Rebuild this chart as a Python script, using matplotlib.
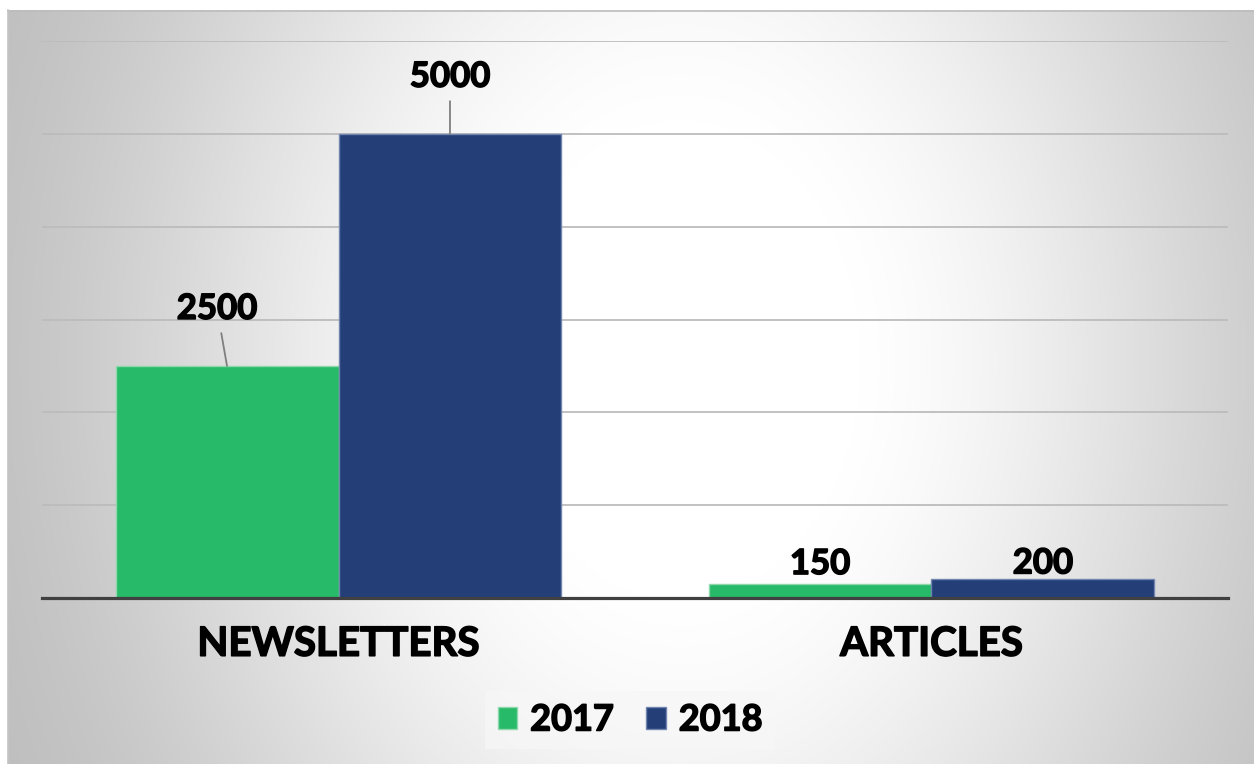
import numpy as np
import matplotlib
matplotlib.use("Agg")
import matplotlib.pyplot as plt
import matplotlib.patheffects as pe
from matplotlib.patches import Patch

# данные
categories = ["NEWSLETTERS", "ARTICLES"]
series = ["2017", "2018"]
values_2017 = [2500, 150]
values_2018 = [5000, 200]

colors = {"2017": "#27BA68", "2018": "#243F78"}
edges = {"2017": "#8ED8AC", "2018": "#7086B0"}

plt.rcParams["font.family"] = ["Lato", "DejaVu Sans"]
# трохи жирніший шрифт через обведення
thick = [pe.withStroke(linewidth=1.1, foreground="black")]

W, H = 1254, 764
fig = plt.figure(figsize=(W / 100, H / 100), dpi=100)

# фон з радіальним градієнтом
bg = fig.add_axes([0, 0, 1, 1])
bg.set_xlim(0, W)
bg.set_ylim(H, 0)
bg.axis("off")
yy, xx = np.mgrid[10:H, 8:W]
r = np.hypot(xx - 680, (yy - 360) * 0.75)
t = np.clip((r - 180) / 560, 0, 1)
t = t * t * (3 - 2 * t) * 0.6 + t * 0.4
g = 1 - 0.25 * t
img = np.dstack([g, g, g])
bg.imshow(img, extent=[8, W, H, 10], aspect="auto", interpolation="bilinear")
bg.plot([8, W], [10.5, 10.5], color="#bdbdbd", lw=1.2)
bg.plot([8, 8], [10, H], color="#c4c4c4", lw=1.2)

ax = fig.add_axes([42 / W, 1 - 598 / H, (1228 - 42) / W, (598 - 41) / H])
ax.patch.set_visible(False)

x = np.arange(len(categories))
w = 0.376
b1 = ax.bar(x - w / 2, values_2017, w, color=colors["2017"], edgecolor=edges["2017"],
            lw=1.0, zorder=2)
b2 = ax.bar(x + w / 2, values_2018, w, color=colors["2018"], edgecolor=edges["2018"],
            lw=1.0, zorder=2)

ax.set_xlim(-0.5, 1.5)
ax.set_ylim(0, 6000)
ax.set_yticks(np.arange(0, 6001, 1000))
ax.yaxis.grid(True, color="#bcbcbc", lw=1.3, zorder=0)
ax.set_axisbelow(True)
ax.tick_params(axis="y", left=False, labelleft=False)
ax.set_xticks(x)
ax.set_xticklabels(categories, fontsize=29, fontweight="bold")
for lbl in ax.get_xticklabels():
    lbl.set_path_effects(thick)
ax.tick_params(axis="x", length=0, pad=20)
for s in ["left", "right", "top"]:
    ax.spines[s].set_visible(False)
ax.spines["bottom"].set_color("#404040")
ax.spines["bottom"].set_linewidth(2.3)
ax.spines["bottom"].set_zorder(3)

# підписи значень (великі — з виносками)
label_offsets = {0: [(-10, 57), (0, 57)], 1: [(0, 4), (0, 0)]}
for i in range(len(categories)):
    for j, (bars, vals) in enumerate([(b1, values_2017), (b2, values_2018)]):
        v = vals[i]
        xc = bars[i].get_x() + bars[i].get_width() / 2
        dx, dy = label_offsets[i][j]
        if dy > 20:
            ax.annotate(str(v), xy=(xc, v), xytext=(dx, dy), textcoords="offset pixels",
                        ha="center", va="center", fontsize=25, fontweight="bold",
                        path_effects=thick,
                        arrowprops=dict(arrowstyle="-", color="#7f7f7f", lw=1.3,
                                        shrinkA=4, shrinkB=0), zorder=4)
        else:
            ax.annotate(str(v), xy=(xc, v), xytext=(dx, dy), textcoords="offset pixels",
                        ha="center", va="bottom", fontsize=25, fontweight="bold",
                        path_effects=thick, zorder=4)

handles = [Patch(facecolor=colors[s], edgecolor=edges[s], label=s) for s in series]
leg = fig.legend(handles=handles, loc="center", bbox_to_anchor=(630 / W, 1 - 720 / H),
                 ncol=2, prop={"size": 26, "weight": "bold"}, frameon=True,
                 handlelength=0.55, handleheight=0.55, handletextpad=0.35,
                 columnspacing=0.9, borderpad=0.35)
for txt in leg.get_texts():
    txt.set_path_effects(thick)
leg.get_frame().set_facecolor("#f7f7f7")
leg.get_frame().set_edgecolor("none")
leg.get_frame().set_alpha(0.7)
leg.get_frame().set_boxstyle("square", pad=0)

fig.savefig("out.png", dpi=100)
